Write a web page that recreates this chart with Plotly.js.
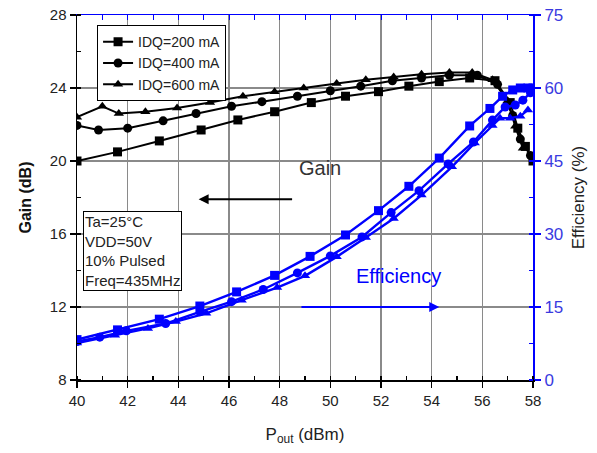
<!DOCTYPE html>
<html>
<head>
<meta charset="utf-8">
<script src="https://cdn.plot.ly/plotly-3.0.1.min.js"></script>
<style>html,body{margin:0;padding:0;background:#fff;}#chart{width:597px;height:453px;}</style>
</head>
<body>
<div id="chart"></div>
<script>
// Gain (dB) vs Pout (dBm)
const gain200X = [40, 41.6, 43.25, 44.9, 46.35, 47.8, 49.25, 50.6, 51.9, 53.1, 54.3, 55.5, 56.5, 57.1, 57.4, 57.7, 58];
const gain200Y = [20.0, 20.5, 21.1, 21.7, 22.25, 22.7, 23.2, 23.55, 23.8, 24.1, 24.35, 24.55, 24.4, 23.2, 21.8, 20.8, 20.0];
const gain400X = [40, 40.85, 42.0, 43.4, 44.7, 46.1, 47.3, 48.7, 50.0, 51.2, 52.45, 53.6, 54.7, 55.8, 56.6, 57.2, 57.5, 57.9];
const gain400Y = [21.95, 21.7, 21.8, 22.2, 22.6, 23.0, 23.25, 23.55, 23.85, 24.1, 24.4, 24.55, 24.7, 24.7, 24.2, 22.5, 21.2, 20.3];
const gain600X = [40, 41.0, 41.65, 42.7, 43.95, 45.25, 46.55, 47.8, 48.95, 50.25, 51.4, 52.5, 53.6, 54.7, 55.6, 56.4, 57.0, 57.3, 57.6];
const gain600Y = [22.4, 23.0, 22.6, 22.7, 22.9, 23.2, 23.55, 23.8, 24.0, 24.25, 24.45, 24.6, 24.75, 24.85, 24.85, 24.45, 23.3, 21.9, 20.7];
// Efficiency (%) vs Pout (dBm)
const eff200X = [40, 41.6, 43.25, 44.85, 46.3, 47.8, 49.2, 50.6, 51.9, 53.1, 54.3, 55.5, 56.3, 56.8, 57.2, 57.5, 57.8, 58];
const eff200Y = [8.3, 10.3, 12.5, 15.2, 18.1, 21.5, 25.4, 29.8, 34.8, 39.8, 45.6, 52.2, 55.8, 58.3, 59.6, 60, 60, 60];
const eff400X = [40, 40.9, 41.95, 43.5, 44.85, 46.1, 47.35, 48.7, 50.0, 51.25, 52.4, 53.5, 54.65, 55.65, 56.4, 56.9, 57.3, 57.6, 57.9];
const eff400Y = [7.9, 8.8, 10.1, 11.6, 14.0, 16.1, 18.6, 22.0, 25.5, 29.4, 34.4, 38.9, 44.4, 48.9, 53.4, 56.1, 56.5, 57.5, 59.0];
const eff600X = [40, 41.5, 42.8, 43.9, 45.1, 46.5, 47.9, 49.0, 50.25, 51.4, 52.5, 53.6, 54.8, 55.7, 56.4, 56.7, 57.1, 57.5, 57.8];
const eff600Y = [7.6, 9.2, 10.6, 12.0, 13.7, 16.4, 19.0, 21.4, 25.3, 29.3, 33.2, 38.0, 43.8, 48.7, 52.3, 53.8, 53.8, 54.2, 55.5];

const seriesNames = ['IDQ=200 mA', 'IDQ=400 mA', 'IDQ=600 mA'];
const symbols = ['square', 'circle', 'triangle-up'];
const BLUE = '#0000ff';

const gainX = [gain200X, gain400X, gain600X];
const gainY = [gain200Y, gain400Y, gain600Y];
const effX = [eff200X, eff400X, eff600X];
const effY = [eff200Y, eff400Y, eff600Y];

const traces = [];
for (let i = 0; i < 3; i++) {
  traces.push({
    x: effX[i], y: effY[i], yaxis: 'y2', type: 'scatter', mode: 'lines+markers',
    showlegend: false,
    line: {color: BLUE, width: 2.4},
    marker: {symbol: symbols[i], size: 9, color: BLUE}
  });
}
for (let i = 0; i < 3; i++) {
  traces.push({
    x: gainX[i], y: gainY[i], type: 'scatter', mode: 'lines+markers',
    name: seriesNames[i],
    line: {color: '#000', width: 2},
    marker: {symbol: symbols[i], size: 9, color: '#000'}
  });
}
// top axis carrier (no visible data)
traces.push({x: [], y: [], xaxis: 'x2', showlegend: false, hoverinfo: 'skip'});

const font = 'Arial, "Liberation Sans", sans-serif';

const layout = {
  width: 597, height: 453,
  margin: {l: 77, r: 64, t: 15, b: 73},
  paper_bgcolor: '#fff', plot_bgcolor: '#fff',
  font: {family: font, color: '#000'},
  showlegend: true,
  legend: {
    x: 0.044, y: 0.972, xanchor: 'left', yanchor: 'top',
    bgcolor: '#fff', bordercolor: '#000', borderwidth: 1,
    font: {family: font, size: 14, color: '#222'},
    tracegroupgap: 0, itemwidth: 30
  },
  xaxis: {
    range: [40, 58], dtick: 2, tick0: 40,
    showline: true, linecolor: '#000', linewidth: 1.5,
    ticks: 'outside', ticklen: 6, tickwidth: 1.5, tickcolor: '#000',
    minor: {dtick: 1, ticks: 'inside', ticklen: 4, tickcolor: '#000', showgrid: false},
    showgrid: true, gridcolor: '#8a8a8a', gridwidth: 1.2,
    zeroline: false,
    tickfont: {family: font, size: 15, color: '#222'},
    title: {text: 'P<sub>out</sub> (dBm)', font: {family: font, size: 17, color: '#222'}, standoff: 20}
  },
  xaxis2: {
    overlaying: 'x', side: 'top', anchor: 'y', range: [40, 58], dtick: 1,
    showline: true, linecolor: BLUE, linewidth: 1.5,
    ticks: 'inside', ticklen: 5, tickcolor: BLUE, showticklabels: false,
    showgrid: false, zeroline: false
  },
  yaxis: {
    range: [8, 28], dtick: 4, tick0: 8,
    showline: true, linecolor: '#000', linewidth: 1.5,
    ticks: 'outside', ticklen: 6, tickwidth: 1.5, tickcolor: '#000',
    minor: {dtick: 2, ticks: 'inside', ticklen: 4, tickcolor: '#000', showgrid: false},
    showgrid: true, gridcolor: '#8a8a8a', gridwidth: 1.2,
    zeroline: false,
    tickfont: {family: font, size: 15, color: '#222'},
    title: {text: '<b>Gain (dB)</b>', font: {family: font, size: 16, color: '#111'}, standoff: 14}
  },
  yaxis2: {
    overlaying: 'y', side: 'right', anchor: 'x', range: [0, 75], dtick: 15, tick0: 0,
    showline: true, linecolor: BLUE, linewidth: 2,
    ticks: 'outside', ticklen: 6, tickwidth: 1.5, tickcolor: BLUE,
    minor: {dtick: 7.5, ticks: 'inside', ticklen: 4, tickcolor: BLUE, showgrid: false},
    showgrid: false, zeroline: false,
    tickfont: {family: font, size: 17, color: '#3a3adf'},
    title: {text: 'Efficiency (%)', font: {family: font, size: 17, color: '#222'}, standoff: 10}
  },
  annotations: [
    {
      xref: 'paper', yref: 'paper', x: 0.013, y: 0.463, xanchor: 'left', yanchor: 'top',
      text: 'Ta=25°C<br>VDD=50V<br>10% Pulsed<br>Freq=435MHz', align: 'left', showarrow: false,
      font: {family: font, size: 15, color: '#222'},
      bordercolor: '#000', borderwidth: 1, bgcolor: '#fff', borderpad: 1
    },
    {
      xref: 'x', yref: 'y', x: 49.6, y: 19.6, text: 'Gain', showarrow: false,
      font: {family: font, size: 20, color: '#333'}
    },
    {
      xref: 'x', yref: 'y', x: 44.8, y: 17.9, ax: 48.55, ay: 17.9, axref: 'x', ayref: 'y',
      text: '', showarrow: true, arrowhead: 2, arrowsize: 1, arrowwidth: 2, arrowcolor: '#000'
    },
    {
      xref: 'x', yref: 'y2', x: 52.7, y: 21.4, text: 'Efficiency', showarrow: false,
      font: {family: font, size: 20, color: BLUE}
    },
    {
      xref: 'x', yref: 'y2', x: 54.3, y: 15.0, ax: 48.8, ay: 15.0, axref: 'x', ayref: 'y2',
      text: '', showarrow: true, arrowhead: 2, arrowsize: 1, arrowwidth: 2, arrowcolor: BLUE
    }
  ]
};

Plotly.newPlot('chart', traces, layout, {displayModeBar: false, staticPlot: true});
</script>
</body>
</html>
